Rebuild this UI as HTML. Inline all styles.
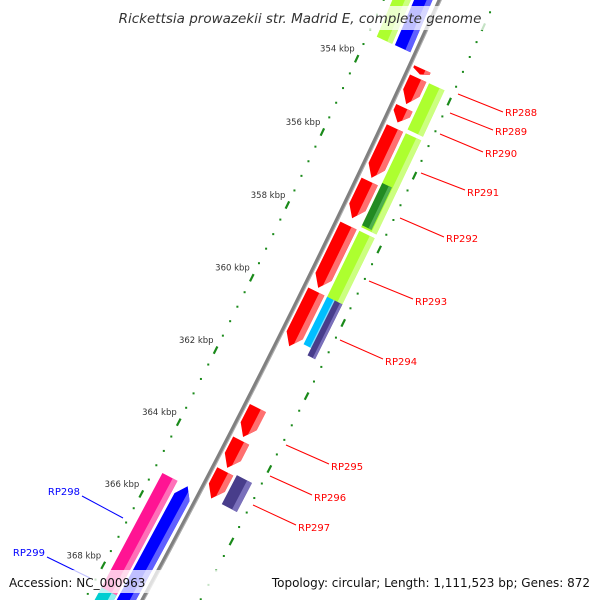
<!DOCTYPE html>
<html><head><meta charset="utf-8"><style>
html,body{margin:0;padding:0;background:#fff;width:600px;height:600px;overflow:hidden;}
svg{display:block;font-family:"DejaVu Sans","Liberation Sans",sans-serif;}
</style></head><body>
<svg id="map" width="600" height="600" viewBox="0 0 600 600" xmlns="http://www.w3.org/2000/svg">
<rect width="600" height="600" fill="#fff"/>
<g id="ticks"></g>
<g id="backbone"></g>
<g id="genes"></g>
<g id="labels"></g>
<rect x="115" y="6" width="372" height="24" fill="#fff" opacity="0.75"/>
<text x="300" y="23" text-anchor="middle" font-size="13.5" font-style="italic" fill="#333">Rickettsia prowazekii str. Madrid E, complete genome</text>
<rect x="0" y="570" width="600" height="23" fill="#fff" opacity="0.75"/>
<text x="9" y="587" font-size="12" fill="#111">Accession: NC_000963</text>
<text x="590" y="587" text-anchor="end" font-size="12" fill="#111">Topology: circular; Length: 1,111,523 bp; Genes: 872</text>
</svg>
<script>
// gene data (kbp)
const geneStarts = [353.55, 353.8, 354.6, 355.15, 356.6, 357.8, 359.6, 362.8, 363.7, 364.55, 353.8, 355.15, 356.5, 357.8, 359.6, 359.6, 364.5, 340, 340, 365.3, 365.3, 368.5];
const geneEnds   = [353.7, 354.5, 355.0, 356.5, 357.6, 359.5, 361.1, 363.6, 364.45, 365.3, 355.05, 357.7, 357.65, 359.7, 360.9, 361.1, 365.3, 353.3, 353.3, 368.6, 371, 371];
const geneBands  = [1, 1, 1, 1, 1, 1, 1, 1, 1, 1, 2, 2, 2, 2, 2, 2, 2, -1, -2, -1, -2, -1];
const geneHalves = [0, 0, 0, 0, 0, 0, 0, 0, 0, 0, 0, 0, 1, 0, 1, 2, 0, 0, 0, 0, 0, 0];
const geneDirs   = [1, 1, 1, 1, 1, 1, 1, 1, 1, 1, 0, 0, 0, 0, 0, 0, 0, 0, 0, 0, -1, 0];
const geneColors = ["#ff0000","#ff0000","#ff0000","#ff0000","#ff0000","#ff0000","#ff0000","#ff0000","#ff0000","#ff0000","#adff2f","#adff2f","#228b22","#adff2f","#00bfff","#483d8b","#483d8b","#adff2f","#0000ff","#ff1493","#0000ff","#00ced1"];
// tick data
const majorTicks = [352, 354, 356, 358, 360, 362, 364, 366, 368, 370];
const tickLabels = ["352 kbp","354 kbp","356 kbp","358 kbp","360 kbp","362 kbp","364 kbp","366 kbp","368 kbp","370 kbp"];
// label data
const labelNames = ["RP288","RP289","RP290","RP291","RP292","RP293","RP294","RP295","RP296","RP297","RP298","RP299"];
const labelColors = ["red","red","red","red","red","red","red","red","red","red","blue","blue"];

const CX=-8144, CY=-3878, T0=0.4337, DT=0.00432;
const NS="http://www.w3.org/2000/svg";
function pos(k,r){const t=T0+(k-354)*DT;return [CX+r*Math.cos(t),CY+r*Math.sin(t)];}
function mk(tag,attrs,parent){const e=document.createElementNS(NS,tag);for(const a in attrs)e.setAttribute(a,attrs[a]);parent.appendChild(e);return e;}
const bandR={1:[9423,9441],2:[9444,9461],"-1":[9377,9394],"-2":[9397,9414]};

// backbone
const bb=document.getElementById('backbone');
let pts=[];for(let k=350;k<=372;k+=0.25){pts.push(pos(k,9419).join(','));}
const bbl=mk('polyline',{points:pts.join(' '),fill:'none',stroke:'#808080','stroke-width':4},bb);


let pts2=[];for(let k=350;k<=372;k+=0.25){pts2.push(pos(k,9420.5).join(','));}
mk('polyline',{points:pts2.join(' '),fill:'none',stroke:'#b0b0b0','stroke-width':1},bb);

// ticks
const tg=document.getElementById('ticks');
for(let i=0;i<=55;i++){
  const k=350+i*0.4;
  if(Math.abs(k-Math.round(k/2)*2)<0.01) continue;
  for(const r of [9368,9470]){
    const p=pos(k,r);
    const d=mk('rect',{x:p[0]-1,y:p[1]-1,width:2,height:2,fill:'#1a8a1a'},tg);
    
    
  }
}
majorTicks.forEach((k,i)=>{
  for(const r of [9368,9470]){
    const a=pos(k-0.1,r),b=pos(k+0.1,r);
    const l=mk('line',{x1:a[0],y1:a[1],x2:b[0],y2:b[1],stroke:'#1a8a1a','stroke-width':2.2},tg);
    
    
  }
  const p=pos(k,9368);
  const t=mk('text',{x:p[0]-2,y:p[1]-7,'text-anchor':'end','font-size':8.5,fill:'#333'},tg);
  t.textContent=tickLabels[i];
  
  
});

// genes
const gg=document.getElementById('genes');
function lighten(c){return c==="#ff0000"?"#ff7070":c==="#adff2f"?"#ccff80":c==="#0000ff"?"#6060ff":c==="#ff1493"?"#ff70b8":c==="#483d8b"?"#7a70bb":c==="#228b22"?"#4fb04f":c==="#00bfff"?"#80dfff":"#90f0f0";}
geneStarts.forEach((s,i)=>{
  const e=geneEnds[i];let [r1,r2]=bandR[geneBands[i]];
  if(geneHalves[i]===1){r2=(r1+r2)/2+2;}
  if(geneHalves[i]===2){r1=(r1+r2)/2;}
  const dir=geneDirs[i];const len=e-s;const h=Math.min(0.3,len*0.6);const rm=(r1+r2)/2;
  let poly;
  if(dir===1){poly=[pos(s,r1),pos(s,r2),pos(e-h,r2),pos(e,rm),pos(e-h,r1)];}
  else if(dir===-1){poly=[pos(s,rm),pos(s+h,r2),pos(e,r2),pos(e,r1),pos(s+h,r1)];}
  else{poly=[pos(s,r1),pos(s,r2),pos(e,r2),pos(e,r1)];}
  const g=mk('polygon',{points:poly.map(p=>p.join(',')).join(' '),fill:geneColors[i]},gg);
  
  
  const rl=r1+(r2-r1)*0.68;
  let p2;
  if(dir===1){p2=[pos(s,rl),pos(s,r2),pos(e-h,r2),pos(e-h*0.35,rl)];}
  else if(dir===-1){p2=[pos(s+h*0.35,rl),pos(s+h,r2),pos(e,r2),pos(e,rl)];}
  else{p2=[pos(s,rl),pos(s,r2),pos(e,r2),pos(e,rl)];}
  mk('polygon',{points:p2.map(p=>p.join(',')).join(' '),fill:lighten(geneColors[i])},gg);
});

// labels
const lg=document.getElementById('labels');
const labelLines=[[458,94,503,112],[450,113,493,130],[440,134,483,152],[421,173,465,190],[400,218,444,237],[369,281,413,299],[340,340,383,359],[286,445,329,464],[270,476,312,495],[253,505,296,525],[123,518,82,496],[90,578,47,557]];
const labelPos=[[505,116,'start'],[495,135,'start'],[485,157,'start'],[467,196,'start'],[446,242,'start'],[415,305,'start'],[385,365,'start'],[331,470,'start'],[314,501,'start'],[298,531,'start'],[80,495,'end'],[45,556,'end']];
labelNames.forEach((n,i)=>{
  const L=labelLines[i];
  const l=mk('line',{x1:L[0],y1:L[1],x2:L[2],y2:L[3],stroke:labelColors[i],'stroke-width':1},lg);
  
  
  const P=labelPos[i];
  const t=mk('text',{x:P[0],y:P[1],'text-anchor':P[2],'font-size':10,fill:labelColors[i]},lg);
  t.textContent=n;
  
  
});
</script>
</body></html>
